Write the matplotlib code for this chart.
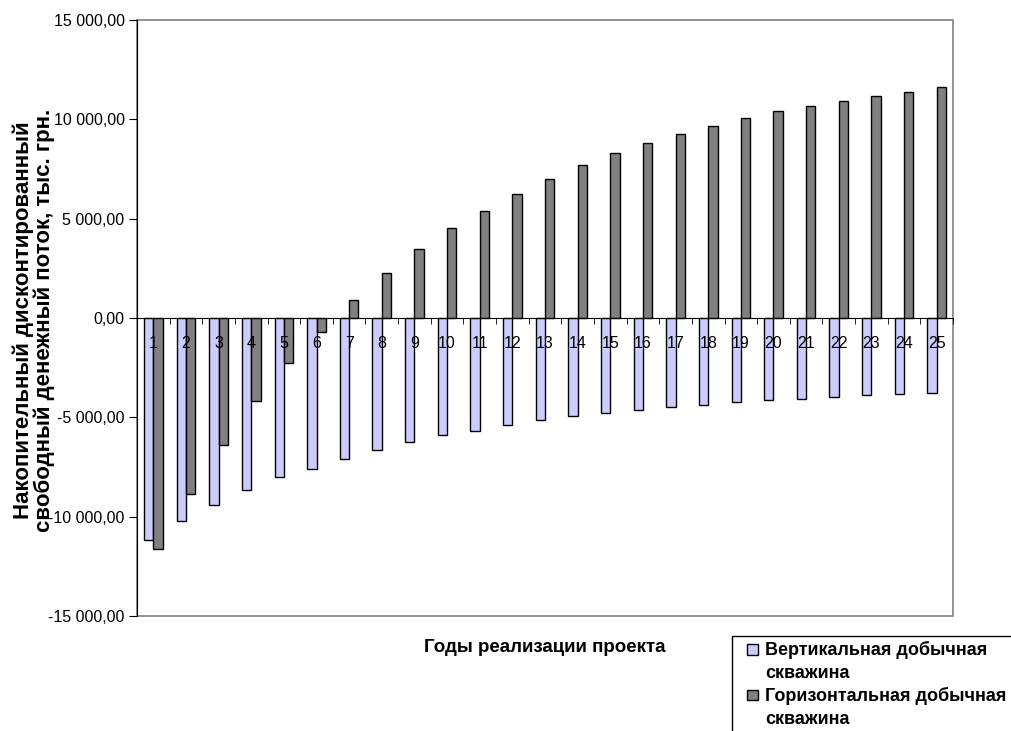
import matplotlib
matplotlib.use("Agg")
import numpy as np
import matplotlib.pyplot as plt
from matplotlib.patches import Rectangle
from matplotlib.legend_handler import HandlerPatch

plt.rcParams['font.family'] = ['Liberation Sans', 'DejaVu Sans']

years = list(range(1, 26))
vertical = [-11170, -10230, -9400, -8680, -8010, -7610, -7090, -6640, -6250, -5890,
            -5670, -5400, -5150, -4950, -4770, -4630, -4480, -4370, -4230, -4130,
            -4060, -3980, -3900, -3850, -3760]
horizontal = [-11640, -8850, -6390, -4180, -2240, -690, 900, 2260, 3460, 4550,
              5400, 6250, 7020, 7690, 8310, 8800, 9260, 9680, 10070, 10400,
              10690, 10940, 11190, 11400, 11610]
yticks = [-15000, -10000, -5000, 0, 5000, 10000, 15000]

label_v = "Вертикальная добычная"
label_h = "Горизонтальная добычная"
tail = "скважина"


def fmt(v):
    s = f"{abs(v):,.2f}".replace(",", " ").replace(".", ",")
    return ("-" if v < 0 else "") + s


def small_square(legend, orig_handle, xdescent, ydescent, width, height, fontsize):
    s = 0.6 * fontsize
    return Rectangle((-xdescent + width - s, -ydescent + (height - s) / 2), s, s)


fig = plt.figure(figsize=(10.11, 7.31), dpi=100)
ax = fig.add_axes([137/1011, 1-616/731, (953-137)/1011, (616-20)/731])

x = np.array(years)
w = 0.285
b1 = ax.bar(x - w/2, vertical, w, color='#CCCCFF', edgecolor='black', linewidth=1)
b2 = ax.bar(x + w/2, horizontal, w, color='#808080', edgecolor='black', linewidth=1)

ax.set_xlim(0.5, 25.5)
ax.set_ylim(-15000, 15000)

# plot area border
ax.add_patch(Rectangle((0, 0), 1, 1, transform=ax.transAxes, fill=False,
                       edgecolor='#808080', linewidth=1.2, zorder=0.5, clip_on=False))

for s in ['top', 'right']:
    ax.spines[s].set_visible(False)
ax.spines['bottom'].set_position(('data', 0))
ax.spines['bottom'].set_color('black')
ax.spines['left'].set_color('black')
ax.spines['bottom'].set_zorder(3)

ax.set_xticks(x)
ax.set_xticklabels([str(v) for v in years], fontsize=11.5)
ax.set_xticks(np.arange(0.5, 26, 1), minor=True)
ax.tick_params(axis='x', which='major', length=0, pad=13)
ax.tick_params(axis='x', which='minor', length=4.5, direction='out', color='black')

ax.set_yticks(yticks)
ax.set_yticklabels([fmt(v) for v in yticks], fontsize=11.5)
ax.tick_params(axis='y', length=5.5, direction='out', color='black')

fig.text(34/1011, 1-320/731, "Накопительный дисконтированный\nсвободный денежный поток, тыс. грн.",
         rotation=90, ha='center', va='center', fontsize=16, fontweight='bold',
         linespacing=0.95, multialignment='center')
fig.text(545/1011, 1-648/731, "Годы реализации проекта", ha='center', va='center',
         fontsize=13.5, fontweight='bold')

blank = Rectangle((0, 0), 1, 1, visible=False)
leg = fig.legend([b1[0], blank, b2[0], blank], [label_v, tail, label_h, tail],
                 loc='upper left', bbox_to_anchor=(732/1011, 1-636/731),
                 prop={'size': 13, 'weight': 'bold'}, frameon=True, fancybox=False,
                 edgecolor='black', framealpha=1, borderpad=0.3, labelspacing=0.3,
                 handlelength=1.15, handleheight=0.6, handletextpad=0.4, borderaxespad=0,
                 handler_map={Rectangle: HandlerPatch(patch_func=small_square)})
leg.get_frame().set_linewidth(1)

fig.savefig("out.png", dpi=100)
